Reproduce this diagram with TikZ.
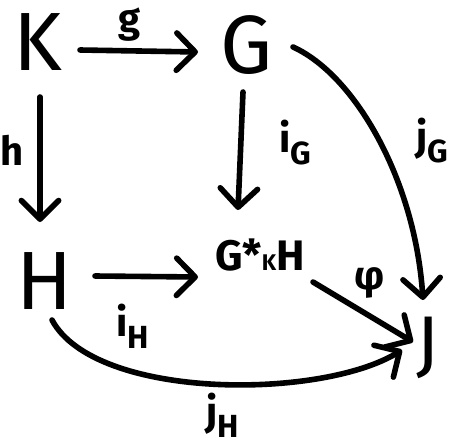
\documentclass[tikz,border=0pt]{standalone}
\usepackage{fontspec}
\setmainfont{Fira Sans}
\usetikzlibrary{arrows.meta,calc}
\newcommand\lsub[2]{#1\raisebox{-0.3em}{\fontsize{24}{24}\selectfont #2}}
\begin{document}
\begin{tikzpicture}[x=0.75pt,y=-0.75pt,
  line width=4.2pt, line cap=round, line join=round,
  obj/.style={inner sep=0pt, font=\fontsize{62}{62}\selectfont},
  lbl/.style={inner sep=0pt, font=\fontsize{30}{30}\selectfont\bfseries},
  arr/.style={-{Straight Barb[length=14pt,width=28pt,round]}}]
\useasboundingbox (0,0) rectangle (457,447);
% objects
\node[obj] (K) at (38,42) {K};
\node[obj] (G) at (247,45) {G};
\node[obj] (H) at (45,281) {H};
\node[obj, font=\fontsize{56}{56}\selectfont] (J) at (428,348) {J};
\node[inner sep=0pt,font=\fontsize{32}{32}\selectfont\bfseries] (P) at (260,255) {G*{\fontsize{17}{17}\selectfont K}H};
% labels
\node[lbl] (lg) at (130,25) {g};
\node[lbl] (lh) at (12,150) {h};
\node[lbl] (liG) at (295,143) {\lsub{i}{G}};
\node[lbl] (ljG) at (432,141) {\lsub{j}{G}};
\node[lbl] (liH) at (133,326) {\lsub{i}{H}};
\node[lbl] (ljH) at (223,415) {\lsub{j}{H}};
\node[lbl] (lphi) at (370,283) {φ};
% arrows
\draw[arr] ($(K)+(42,8)$) -- ($(G)+(-49,7)$);
\draw[arr] ($(K)+(2,55)$) -- ($(H)+(-5,-59)$);
\draw[arr] ($(G)+(-4,47)$) -- ($(P)+(-22,-45)$);
\draw[arr] ($(H)+(50,-5)$) -- ($(P)+(-62,22)$);
\draw[arr] ($(G)+(46,2)$) .. controls (355,75) and (415,180) .. ($(J)+(-5,-48)$);
\draw[arr] ($(P)+(53,27)$) -- ($(J)+(-15,-6)$);
\draw[arr] ($(H)+(7,39)$) .. controls (95,400) and (320,400) .. ($(J)+(-26,2)$);
\end{tikzpicture}
\end{document}
